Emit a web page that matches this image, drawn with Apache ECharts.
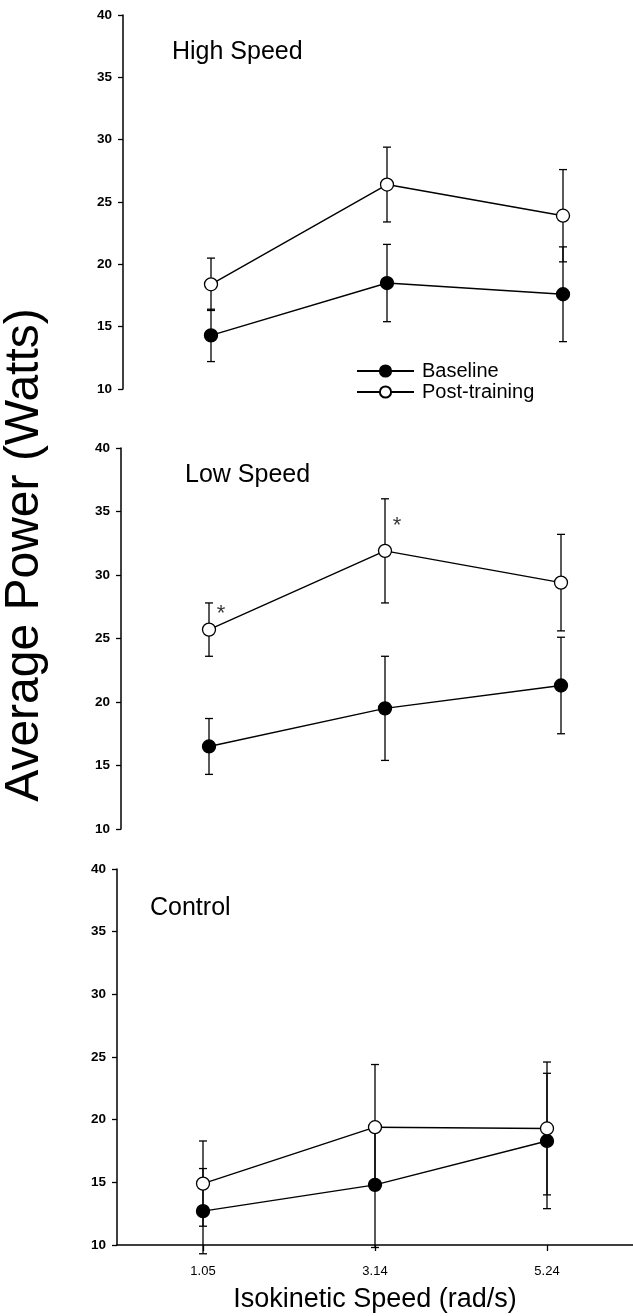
<!DOCTYPE html>
<html>
<head>
<meta charset="utf-8">
<script src="https://cdn.jsdelivr.net/npm/echarts@6/dist/echarts.min.js"></script>
<style>
html,body{margin:0;padding:0;background:#fff;}
#chart{width:633px;height:1316px;}
</style>
</head>
<body>
<div id="chart"></div>
<script>
const categories = ['1.05', '3.14', '5.24'];
const yTicks = [10, 15, 20, 25, 30, 35, 40];
const panelTitles = ['High Speed', 'Low Speed', 'Control'];

const highBase = [14.3, 18.5, 17.6];
const highBaseErr = [2.1, 3.1, 3.8];
const highPost = [18.4, 26.4, 23.9];
const highPostErr = [2.1, 3.0, 3.7];

const lowBase = [16.5, 19.5, 21.3];
const lowBaseErr = [2.2, 4.1, 3.8];
const lowPost = [25.7, 31.9, 29.4];
const lowPostErr = [2.1, 4.1, 3.8];

const ctrlBase = [12.7, 14.8, 18.3];
const ctrlBaseErr = [3.4, 5.0, 5.4];
const ctrlPost = [14.9, 19.4, 19.3];
const ctrlPostErr = [3.4, 5.0, 5.3];

// significance markers (Low Speed panel): [category index, value]
const starPoints = [[0, 27.2], [1, 34.1]];

const panels = [
  {base: highBase, baseErr: highBaseErr, post: highPost, postErr: highPostErr},
  {base: lowBase, baseErr: lowBaseErr, post: lowPost, postErr: lowPostErr},
  {base: ctrlBase, baseErr: ctrlBaseErr, post: ctrlPost, postErr: ctrlPostErr}
];

const font = 'Liberation Sans, Arial, sans-serif';
const grids = [
  {left: 123, top: 15, width: 528, height: 374, outerBoundsMode: 'none', containLabel: false},
  {left: 121, top: 448, width: 528, height: 381, outerBoundsMode: 'none', containLabel: false},
  {left: 117, top: 869, width: 516, height: 376, outerBoundsMode: 'none', containLabel: false}
];
const titlePos = [[172, 52], [185, 475], [150, 908]];

function errRender(params, api) {
  const x = api.value(0);
  const lo = api.coord([x, api.value(1)]);
  const hi = api.coord([x, api.value(2)]);
  const cw = 4;
  const style = {stroke: '#000', lineWidth: 1.3};
  return {
    type: 'group',
    children: [
      {type: 'line', shape: {x1: lo[0], y1: lo[1], x2: hi[0], y2: hi[1]}, style},
      {type: 'line', shape: {x1: lo[0] - cw, y1: lo[1], x2: lo[0] + cw, y2: lo[1]}, style},
      {type: 'line', shape: {x1: hi[0] - cw, y1: hi[1], x2: hi[0] + cw, y2: hi[1]}, style}
    ]
  };
}

const xAxes = [], yAxes = [], series = [], graphics = [];
panels.forEach((p, i) => {
  const last = i === 2;
  xAxes.push({
    type: 'category', gridIndex: i, data: categories, boundaryGap: true,
    axisLine: {show: last, lineStyle: {color: '#000', width: 1.5}},
    axisTick: {show: last, alignWithLabel: true, length: 6, lineStyle: {color: '#000', width: 1.3}},
    axisLabel: {show: last, color: '#000', fontSize: 13, fontFamily: font, margin: 20},
    splitLine: {show: false},
    name: last ? 'Isokinetic Speed (rad/s)' : '',
    nameLocation: 'middle', nameGap: 41,
    nameTextStyle: {color: '#000', fontSize: 27, fontFamily: font}
  });
  yAxes.push({
    type: 'value', gridIndex: i, min: 10, max: 40, interval: 5,
    axisLine: {show: true, lineStyle: {color: '#000', width: 1.5}},
    axisTick: {show: true, length: 5, lineStyle: {color: '#000', width: 1.3}},
    axisLabel: {color: '#000', fontSize: 13.5, fontWeight: 'bold', fontFamily: font, margin: 11},
    splitLine: {show: false}
  });
  series.push({
    type: 'custom', name: 'errBase' + i, xAxisIndex: i, yAxisIndex: i, z: 1,
    renderItem: errRender, silent: true, clip: false,
    data: p.base.map((v, k) => [k, v - p.baseErr[k], v + p.baseErr[k]])
  });
  series.push({
    type: 'custom', name: 'errPost' + i, xAxisIndex: i, yAxisIndex: i, z: 1,
    renderItem: errRender, silent: true, clip: false,
    data: p.post.map((v, k) => [k, v - p.postErr[k], v + p.postErr[k]])
  });
  series.push({
    type: 'line', name: 'Baseline', xAxisIndex: i, yAxisIndex: i, z: 3,
    data: p.base, symbol: 'circle', symbolSize: 13,
    lineStyle: {color: '#000', width: 1.4},
    itemStyle: {color: '#000', borderColor: '#000', borderWidth: 1.3}
  });
  series.push({
    type: 'line', name: 'Post-training', xAxisIndex: i, yAxisIndex: i, z: 3,
    data: p.post, symbol: 'circle', symbolSize: 13,
    lineStyle: {color: '#000', width: 1.4},
    itemStyle: {color: '#fff', borderColor: '#000', borderWidth: 1.3}
  });
  graphics.push({
    type: 'text', x: titlePos[i][0], y: titlePos[i][1],
    style: {text: panelTitles[i], font: '25px ' + font, fill: '#000', textVerticalAlign: 'middle'}
  });
});

series.push({
  type: 'scatter', name: 'sig', xAxisIndex: 1, yAxisIndex: 1, z: 4,
  data: starPoints, symbolSize: 0,
  label: {show: true, formatter: '*', position: 'inside', offset: [12, 3], color: '#000', fontSize: 22, fontFamily: font}
});

graphics.push({
  type: 'text', x: 25, y: 555, rotation: Math.PI / 2,
  style: {text: 'Average Power (Watts)', font: '48px ' + font, fill: '#000', textAlign: 'center', textVerticalAlign: 'middle'}
});

const chart = echarts.init(document.getElementById('chart'));
chart.setOption({
  animation: false,
  backgroundColor: '#fff',
  grid: grids,
  xAxis: xAxes,
  yAxis: yAxes,
  legend: {
    data: ['Baseline', 'Post-training'], orient: 'vertical', left: 356, top: 361, padding: 0,
    itemWidth: 57, itemHeight: 14, itemGap: 1,
    textStyle: {color: '#000', fontSize: 20, fontFamily: font, padding: [0, 0, 0, 3]}
  },
  series: series,
  graphic: graphics
});
</script>
</body>
</html>
